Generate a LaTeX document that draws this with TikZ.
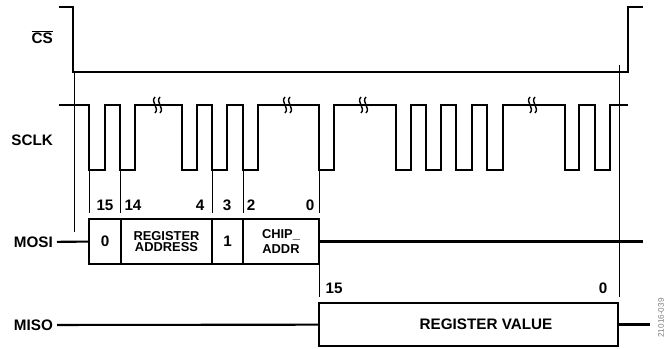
\documentclass[tikz,border=0pt]{standalone}
\usepackage{fontspec}
\setmainfont{Liberation Sans}
\usepackage{tikz}
\usetikzlibrary{positioning,calc}

\begin{document}
\begin{tikzpicture}[x=0.03cm,y=-0.03cm,
  sig/.style={line width=1.8pt,line join=miter},
  guide/.style={line width=0.6pt},
  signame/.style={anchor=east,font=\fontsize{13}{14}\selectfont\bfseries},
  bitno/.style={font=\fontsize{13}{14}\selectfont\bfseries},
  field/.style={draw,line width=1.8pt,minimum height=1.35cm,inner sep=0pt,
    align=center,font=\fontsize{11}{10}\selectfont\bfseries},
  bigfield/.style={field,font=\fontsize{13}{14}\selectfont\bfseries},
  brk/.pic={\draw[line width=1.2pt] (-2,-8) .. controls (-7,-3) and (3,3) .. (-2,8);
    \draw[line width=1.2pt] (3,-8) .. controls (-2,-3) and (8,3) .. (3,8);}]
\useasboundingbox (0,0) rectangle (667,349);
% signal names
\node[signame] (cs) at (57,37) {$\overline{\mbox{\bfseries CS}}$};
\node[signame] (sclk) at (57,140) {SCLK};
\node[signame] (mosi) at (57,242) {MOSI};
\node[signame] (miso) at (57,325) {MISO};
% chip select
\draw[sig] (59,7) -- (73,7) -- (73,72) -- (628,72) -- (628,7) -- (643,7);
% serial clock
\draw[sig] (59,105) foreach \a/\b in {89/105,120/135,182/197,212/227,243/258,319/334,
  396/411,426/441,456/472,487/503,565/579,595/610}
  { -- (\a,105) -- (\a,170) -- (\b,170) -- (\b,105) } -- (628,105);
\foreach \x in {157,287,363,532}
  \pic at (\x,105) {brk};
% timing guides
\draw[guide] (74,72) -- (74,232);
\foreach \x in {89,120,212,243}
  \draw[guide] (\x,170) -- (\x,213);
\draw[guide] (319,170) -- (319,213);
\draw[guide] (319,264) -- (319,297);
\draw[guide] (619,65) -- (619,297);
% MOSI fields
\node[bigfield,minimum width=0.96cm] (cmd) at (105,241.5) {0};
\node[field,minimum width=2.73cm] (regaddr) at (166.5,241.5) {REGISTER\\ADDRESS};
\node[bigfield,minimum width=0.93cm] (rw) at (227.5,241.5) {1};
\node[field,minimum width=2.28cm] (chipaddr) at (281,241.5) {CHIP\_\\[2pt]ADDR};
\draw[sig] (mosi) -- (cmd);
\draw[sig] (chipaddr.east) -- (643,241.5);
\node[bitno] (m15) at (105,205) {15};
\node[bitno] (m14) at (133,205) {14};
\node[bitno] (m4) at (200,205) {4};
\node[bitno] (m3) at (227,205) {3};
\node[bitno] (m2) at (251,205) {2};
\node[bitno] (m0) at (310,205) {0};
% MISO field
\node[field,minimum width=8.97cm,minimum height=1.29cm] (regval) at (468.5,324.5) {};
\node[font=\fontsize{13}{14}\selectfont\bfseries] (regvaltxt) at (486,324.5) {REGISTER VALUE};
\draw[sig] (miso) -- (regval);
\draw[sig] (regval.east) -- (650,324.5);
\node[bitno] (s15) at (334,288) {15};
\node[bitno] (s0) at (603,288) {0};
% figure number
\node[rotate=90,text=gray,font=\fontsize{7}{8}\selectfont] (fig) at (661,318) {21016-039};
\end{tikzpicture}
\end{document}
